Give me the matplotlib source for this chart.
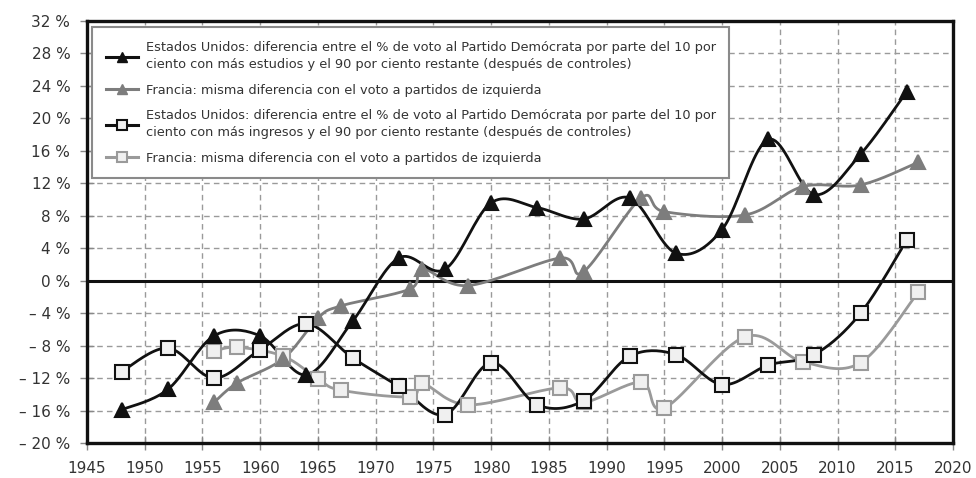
import numpy as np
import matplotlib
matplotlib.use('Agg')
import matplotlib.pyplot as plt
from matplotlib.lines import Line2D

plt.rcParams['font.family'] = ['Liberation Sans Narrow', 'DejaVu Sans']

# Data
us_edu_years = [1948, 1952, 1956, 1960, 1964, 1968, 1972, 1976, 1980, 1984, 1988,
                1992, 1996, 2000, 2004, 2008, 2012, 2016]
us_edu = [-15.9, -13.4, -6.8, -6.8, -11.6, -5.0, 2.8, 1.4, 9.6, 9.0, 7.6,
          10.2, 3.4, 6.3, 17.4, 10.6, 15.6, 23.3]

fr_years = [1956, 1958, 1962, 1965, 1967, 1973, 1974, 1978, 1986, 1988,
            1993, 1995, 2002, 2007, 2012, 2017]
fr_edu = [-15.0, -12.6, -9.6, -4.6, -3.1, -1.0, 1.5, -0.6, 2.8, 1.1,
          10.2, 8.5, 8.1, 11.6, 11.8, 14.6]

us_inc_years = us_edu_years
us_inc = [-11.2, -8.3, -12.0, -8.5, -5.3, -9.5, -13.0, -16.5, -10.1, -15.3, -14.8,
          -9.3, -9.1, -12.8, -10.4, -9.1, -4.0, 5.0]

fr_inc = [-8.7, -8.2, -9.3, -12.1, -13.5, -14.3, -12.6, -15.3, -13.2, -15.0,
          -12.5, -15.7, -6.9, -10.0, -10.1, -1.4]

labels = [
    'Estados Unidos: diferencia entre el % de voto al Partido Demócrata por parte del 10 por\n'
    'ciento con más estudios y el 90 por ciento restante (después de controles)',
    'Francia: misma diferencia con el voto a partidos de izquierda',
    'Estados Unidos: diferencia entre el % de voto al Partido Demócrata por parte del 10 por\n'
    'ciento con más ingresos y el 90 por ciento restante (después de controles)',
    'Francia: misma diferencia con el voto a partidos de izquierda',
]


def smooth(xs, ys, n=20):
    # Bezier smoothing through the points (like a spreadsheet "smoothed line")
    p = np.column_stack([xs, ys]).astype(float)
    out = []
    for i in range(len(p) - 1):
        p0 = p[i - 1] if i > 0 else p[i]
        p1, p2 = p[i], p[i + 1]
        p3 = p[i + 2] if i + 2 < len(p) else p[i + 1]
        c1 = p1 + (p2 - p0) / 6
        c2 = p2 - (p3 - p1) / 6
        t = np.linspace(0, 1, n)[:, None]
        seg = ((1 - t) ** 3) * p1 + 3 * ((1 - t) ** 2) * t * c1 + 3 * (1 - t) * t ** 2 * c2 + t ** 3 * p2
        out.append(seg)
    out = np.vstack(out)
    return out[:, 0], out[:, 1]


BLACK = '#111111'
GREY = '#7d7d7d'
LGREY = '#9a9a9a'

fig = plt.figure(figsize=(9.76, 4.78), dpi=100)
ax = fig.add_axes([87 / 976, 35 / 478, 866 / 976, 422 / 478])

ax.set_xlim(1945, 2020)
ax.set_ylim(-20, 32)
ax.set_xticks(range(1945, 2021, 5))
ax.set_yticks(range(-20, 33, 4))
ax.set_yticklabels([(f'– {abs(v)} %' if v < 0 else f'{v} %') for v in range(-20, 33, 4)])
ax.grid(True, linestyle=(0, (4, 3)), color='#9a9a9a', linewidth=1)
ax.set_axisbelow(True)
ax.axhline(0, color=BLACK, linewidth=2.2, zorder=2)

for s in ax.spines.values():
    s.set_linewidth(2.4)
    s.set_color(BLACK)
ax.tick_params(axis='both', direction='inout', length=10, width=1, color='#888888',
               labelsize=11, labelcolor='#333333')
ax.tick_params(axis='y', pad=7)
ax.tick_params(axis='x', pad=8)

series = [
    (fr_years, fr_inc, LGREY, 's', '#f0f0f0', LGREY),
    (fr_years, fr_edu, GREY, '^', GREY, GREY),
    (us_inc_years, us_inc, BLACK, 's', '#f0f0f0', BLACK),
    (us_edu_years, us_edu, BLACK, '^', BLACK, BLACK),
]
for xs, ys, col, mk, fc, ec in series:
    sx, sy = smooth(xs, ys)
    ax.plot(sx, sy, color=col, linewidth=2.0, zorder=3)
    ax.plot(xs, ys, linestyle='none', marker=mk, markersize=10 if mk == '^' else 9.5,
            markerfacecolor=fc, markeredgecolor=ec, markeredgewidth=1.5, zorder=4)

handles = [
    Line2D([], [], color=BLACK, lw=2.2, marker='^', ms=7, mfc=BLACK, mec=BLACK),
    Line2D([], [], color=GREY, lw=2.2, marker='^', ms=7, mfc=GREY, mec=GREY),
    Line2D([], [], color=BLACK, lw=2.2, marker='s', ms=6.5, mfc='#f0f0f0', mec=BLACK, mew=1.5),
    Line2D([], [], color=LGREY, lw=2.2, marker='s', ms=6.5, mfc='#f0f0f0', mec=LGREY, mew=1.5),
]
leg = ax.legend(handles, labels, loc='upper left', bbox_to_anchor=(0.006, 0.985),
                fontsize=9.3, frameon=True, fancybox=False, framealpha=1,
                handlelength=2.5, handletextpad=0.6, labelspacing=0.95,
                borderpad=1.05, borderaxespad=0, labelcolor='#333333')
for t in leg.get_texts():
    t.set_linespacing(1.45)
leg.get_frame().set_edgecolor('#8a8a8a')
leg.get_frame().set_linewidth(1.5)
leg.set_zorder(5)

fig.savefig('out.png', dpi=100)
